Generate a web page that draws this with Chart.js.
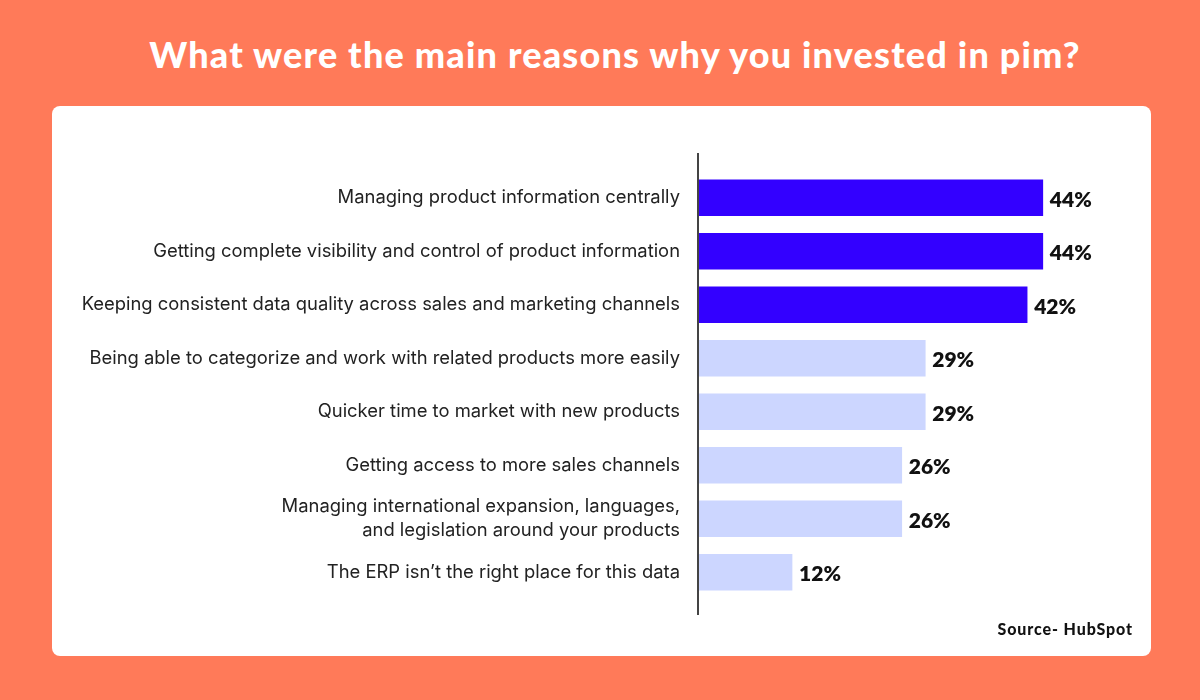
<!DOCTYPE html>
<html>
<head>
<meta charset="utf-8">
<script src="https://cdn.jsdelivr.net/npm/chart.js@4"></script>
<style>
  body { margin: 0; width: 1200px; height: 700px; background: #ff7a59; position: relative; overflow: hidden; }
  h1 { position: absolute; left: 15px; top: 32px; width: 1200px; margin: 0; text-align: center;
       font: 900 36px Lato, sans-serif; color: #fff; letter-spacing: 1.2px; }
  .card { position: absolute; left: 52px; top: 106px; width: 1099px; height: 550px; background: #fff; border-radius: 8px; }
  .card canvas { position: absolute; left: 0; top: 0; }
  .source { position: absolute; right: 18px; bottom: 18px; font: 900 16px Lato, sans-serif; color: #111; letter-spacing: 0.9px; }
</style>
</head>
<body>
<h1>What were the main reasons why you invested in pim?</h1>
<div class="card">
  <canvas id="chart" width="1099" height="550"></canvas>
  <div class="source">Source- HubSpot</div>
</div>
<script>
const reasons = [
  'Managing product information centrally',
  'Getting complete visibility and control of product information',
  'Keeping consistent data quality across sales and marketing channels',
  'Being able to categorize and work with related products more easily',
  'Quicker time to market with new products',
  'Getting access to more sales channels',
  ['Managing international expansion, languages,', 'and legislation around your products'],
  'The ERP isn\u2019t the right place for this data'
]
const shares = [44, 44, 42, 29, 29, 26, 26, 12]
const topThree = 3

const barColors = shares.map((v, i) => i < topThree ? '#3300ff' : '#ccd6ff')

// axis line that runs a bit past the bars, plus % labels at bar ends
const decorations = {
  id: 'decorations',
  afterDatasetsDraw (chart) {
    const { ctx, chartArea } = chart
    ctx.save()
    ctx.strokeStyle = '#444'
    ctx.lineWidth = 2
    ctx.beginPath()
    ctx.moveTo(chartArea.left, chartArea.top - 18)
    ctx.lineTo(chartArea.left, chartArea.bottom + 16)
    ctx.stroke()

    ctx.fillStyle = '#111'
    ctx.font = '800 21px Lato, sans-serif'
    ctx.textBaseline = 'middle'
    chart.getDatasetMeta(0).data.forEach((bar, i) => {
      ctx.fillText(shares[i] + '%', bar.x + 7, bar.y + 2)
    })
    ctx.restore()
  }
}

new Chart(document.getElementById('chart'), {
  type: 'bar',
  data: {
    labels: reasons,
    datasets: [{
      data: shares,
      backgroundColor: barColors,
      barThickness: 36,
      borderWidth: 0
    }]
  },
  options: {
    indexAxis: 'y',
    responsive: false,
    animation: false,
    layout: { padding: { top: 65, bottom: 57, right: 22, left: 0 } },
    plugins: {
      legend: { display: false },
      tooltip: { enabled: false }
    },
    scales: {
      x: {
        min: 0,
        max: 55,
        display: false
      },
      y: {
        afterFit: (scale) => { scale.width = 646 },
        grid: { display: false },
        border: { display: false },
        ticks: {
          padding: 10,
          color: '#222',
          font: { family: 'Inter', size: 18.4, lineHeight: 1.32 }
        }
      }
    }
  },
  plugins: [decorations]
})
</script>
</body>
</html>
